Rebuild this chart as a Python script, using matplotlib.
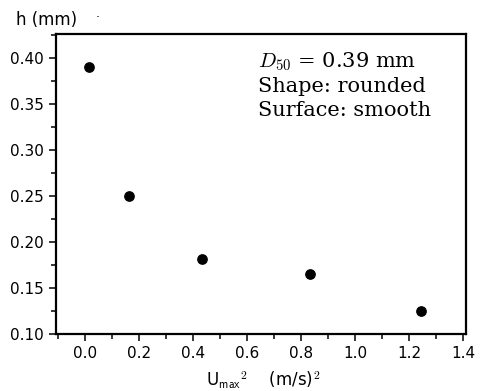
import matplotlib
matplotlib.use("Agg")
import matplotlib.pyplot as plt
from matplotlib.ticker import MultipleLocator

# data
u2 = [0.015, 0.163, 0.433, 0.833, 1.244]
h = [0.390, 0.250, 0.182, 0.165, 0.125]

plt.rcParams['font.family'] = ['DejaVu Sans']
plt.rcParams['mathtext.fontset'] = 'cm'

fig = plt.figure(figsize=(4.8, 3.91), dpi=100)
ax = fig.add_axes([56/480, 1 - 334/391, (466-56)/480, (334-34)/391])

ax.scatter(u2, h, s=45, color='black', zorder=3)

ax.set_xlim(-0.107, 1.41)
ax.set_ylim(0.10, 0.426)

ax.xaxis.set_major_locator(MultipleLocator(0.2))
ax.xaxis.set_minor_locator(MultipleLocator(0.1))
ax.yaxis.set_major_locator(MultipleLocator(0.05))
ax.yaxis.set_minor_locator(MultipleLocator(0.025))
ax.xaxis.set_major_formatter(plt.FormatStrFormatter('%.1f'))
ax.yaxis.set_major_formatter(plt.FormatStrFormatter('%.2f'))

ax.tick_params(which='both', direction='out', top=False, right=False,
               labelsize=11, width=1.1)
ax.tick_params(which='major', length=5)
ax.tick_params(which='minor', length=3.5)
for s in ax.spines.values():
    s.set_linewidth(1.6)

fig.text(16/480, 1 - 20/391, 'h (mm)', fontsize=12, va='center', ha='left')
fig.text(98/480, 1 - 18/391, '·', fontsize=9, va='center', ha='center')
fig.text(206/480, 1 - 380/391, r'U$_{\mathsf{max}}$$^{2}$    (m/s)$^{2}$',
         fontsize=12, va='center', ha='left')

ax.text((258 - 56)/410, 1 - (50-34)/300,
        '$D_{50}$ = 0.39 mm\nShape: rounded\nSurface: smooth',
        fontsize=15, family='DejaVu Serif', va='top', ha='left',
        linespacing=1.3, transform=ax.transAxes)

plt.savefig("out.png", dpi=100)
